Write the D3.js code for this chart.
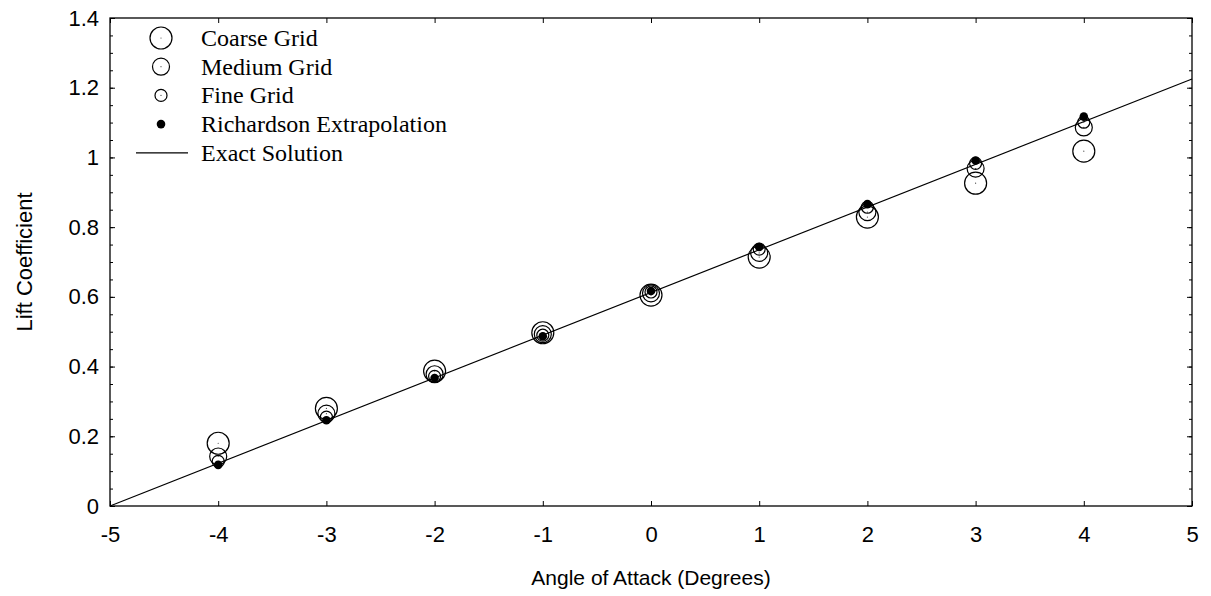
<!DOCTYPE html>
<html>
<head>
<meta charset="utf-8">
<script src="https://cdn.jsdelivr.net/npm/d3@7"></script>
<style>
  body { margin: 0; background: #fff; }
  svg { display: block; }
</style>
</head>
<body>
<div id="chart"></div>
<script>
// data
var angles = [-4, -3, -2, -1, 0, 1, 2, 3, 4];
var coarse = [0.180, 0.280, 0.387, 0.497, 0.605, 0.714, 0.829, 0.926, 1.018];
var medium = [0.142, 0.265, 0.378, 0.493, 0.610, 0.726, 0.843, 0.968, 1.086];
var fine = [0.128, 0.255, 0.372, 0.490, 0.614, 0.737, 0.857, 0.983, 1.101];
var richardson = [0.118, 0.246, 0.367, 0.487, 0.617, 0.743, 0.866, 0.991, 1.117];
var exactAngles = [-5, 5];
var exactLift = [0, 1.225];
var xTicks = [-5, -4, -3, -2, -1, 0, 1, 2, 3, 4, 5];
var yTicks = [0, 0.2, 0.4, 0.6, 0.8, 1, 1.2, 1.4];
var yMinor = d3.range(0, 1.401, 0.05);

var width = 1211, height = 596;
var plotLeft = 110, plotRight = 1192, plotTop = 18, plotBottom = 506;

var svg = d3.select("#chart")
  .append("svg")
  .attr("width", width)
  .attr("height", height);

svg.append("rect").attr("width", width).attr("height", height).attr("fill", "#fff");

var x = d3.scaleLinear().domain([-5, 5]).range([plotLeft, plotRight]);
var y = d3.scaleLinear().domain([0, 1.4]).range([plotBottom, plotTop]);

var axisFont = "'Liberation Sans', Arial, sans-serif";
function plain(d) { return String(+d.toFixed(1)); }

// minor ticks on y (left and right)
svg.append("g")
  .attr("transform", "translate(" + plotLeft + ",0)")
  .call(d3.axisLeft(y).tickValues(yMinor).tickSize(-3).tickFormat(""))
  .classed("axis", true);
svg.append("g")
  .attr("transform", "translate(" + plotRight + ",0)")
  .call(d3.axisRight(y).tickValues(yMinor).tickSize(-3).tickFormat(""))
  .classed("axis", true);

// major ticks
svg.append("g")
  .attr("transform", "translate(0," + plotBottom + ")")
  .call(d3.axisBottom(x).tickValues(xTicks).tickSize(-5).tickPadding(20).tickFormat(plain))
  .classed("axis", true)
  .classed("labelled", true);
svg.append("g")
  .attr("transform", "translate(0," + plotTop + ")")
  .call(d3.axisTop(x).tickValues(xTicks).tickSize(-5).tickFormat(""))
  .classed("axis", true);
svg.append("g")
  .attr("transform", "translate(" + plotLeft + ",0)")
  .call(d3.axisLeft(y).tickValues(yTicks).tickSize(-5).tickPadding(11).tickFormat(plain))
  .classed("axis", true)
  .classed("labelled", true);
svg.append("g")
  .attr("transform", "translate(" + plotRight + ",0)")
  .call(d3.axisRight(y).tickValues(yTicks).tickSize(-5).tickFormat(""))
  .classed("axis", true);

svg.selectAll(".axis").selectAll("path").remove();
svg.selectAll(".axis").selectAll("line").attr("stroke", "black").attr("stroke-width", 1);
svg.selectAll(".labelled").selectAll("text")
  .style("font-family", axisFont)
  .style("font-size", "22px")
  .style("fill", "black");

// frame
svg.append("rect")
  .attr("x", plotLeft).attr("y", plotTop)
  .attr("width", plotRight - plotLeft).attr("height", plotBottom - plotTop)
  .attr("fill", "none").attr("stroke", "black").attr("stroke-width", 1.3);

// axis titles
svg.append("text")
  .attr("x", (plotLeft + plotRight) / 2).attr("y", 585)
  .attr("text-anchor", "middle")
  .style("font-family", axisFont).style("font-size", "21px")
  .text("Angle of Attack (Degrees)");
svg.append("text")
  .attr("transform", "translate(32," + ((plotTop + plotBottom) / 2) + ") rotate(-90)")
  .attr("text-anchor", "middle")
  .style("font-family", axisFont).style("font-size", "22px")
  .text("Lift Coefficient");

// exact solution line
var exact = exactAngles.map(function(a, i) { return {a: a, v: exactLift[i]}; });
svg.append("path")
  .datum(exact)
  .attr("fill", "none")
  .attr("stroke", "black")
  .attr("stroke-width", 1.2)
  .attr("d", d3.line().x(function(d) { return x(d.a); }).y(function(d) { return y(d.v); }));

// open circle series
var series = [
  {name: "Coarse Grid", values: coarse, r: 11},
  {name: "Medium Grid", values: medium, r: 8.5},
  {name: "Fine Grid", values: fine, r: 6}
];

series.forEach(function(s) {
  var g = svg.append("g");
  var pts = angles.map(function(a, i) { return {a: a, v: s.values[i]}; });
  g.selectAll("circle.ring").data(pts).enter().append("circle")
    .attr("class", "ring")
    .attr("cx", function(d) { return x(d.a); })
    .attr("cy", function(d) { return y(d.v); })
    .attr("r", s.r)
    .attr("fill", "none")
    .attr("stroke", "black")
    .attr("stroke-width", 1.2);
  g.selectAll("circle.dot").data(pts).enter().append("circle")
    .attr("class", "dot")
    .attr("cx", function(d) { return x(d.a); })
    .attr("cy", function(d) { return y(d.v); })
    .attr("r", 0.6)
    .attr("fill", "#444");
});

svg.append("g").selectAll("circle")
  .data(angles.map(function(a, i) { return {a: a, v: richardson[i]}; }))
  .enter().append("circle")
  .attr("cx", function(d) { return x(d.a); })
  .attr("cy", function(d) { return y(d.v); })
  .attr("r", 4.3)
  .attr("fill", "black");

// legend
var legendFont = "'Liberation Serif', 'Times New Roman', serif";
var lx = 161, tx = 201, ly0 = 38, dy = 28.7;
var legend = svg.append("g");
series.forEach(function(s, i) {
  legend.append("circle").attr("cx", lx).attr("cy", ly0 + i * dy).attr("r", s.r)
    .attr("fill", "none").attr("stroke", "black").attr("stroke-width", 1.2);
  legend.append("circle").attr("cx", lx).attr("cy", ly0 + i * dy).attr("r", 0.6).attr("fill", "#444");
});
legend.append("circle").attr("cx", lx).attr("cy", ly0 + 3 * dy).attr("r", 4.3).attr("fill", "black");
legend.append("line").attr("x1", 136).attr("x2", 188)
  .attr("y1", ly0 + 4 * dy).attr("y2", ly0 + 4 * dy)
  .attr("stroke", "black").attr("stroke-width", 1.2);

var names = ["Coarse Grid", "Medium Grid", "Fine Grid", "Richardson Extrapolation", "Exact Solution"];
legend.selectAll("text").data(names).enter().append("text")
  .attr("x", tx)
  .attr("y", function(d, i) { return ly0 + i * dy + 8; })
  .style("font-family", legendFont)
  .style("font-size", "24px")
  .text(function(d) { return d; });
</script>
</body>
</html>
